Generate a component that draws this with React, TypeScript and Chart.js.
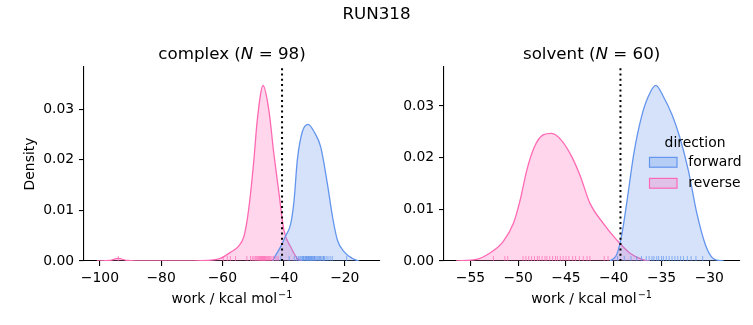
import React, { useEffect, useRef } from "react";
import { Chart, registerables } from "chart.js";

Chart.register(...registerables);

const FONT = "'DejaVu Sans', 'Liberation Sans', sans-serif";

// ---------- text ----------
const SUPTITLE = "RUN318";
const PHASES = ["complex", "solvent"];
const PHASE_N = [98, 60];
const DIRECTIONS = ["forward", "reverse"];
const LEGEND_TITLE = "direction";
const X_LABEL = "work / kcal mol";
const X_LABEL_SUP = "\u22121";
const Y_LABEL = "Density";

// ---------- free-energy markers (dotted lines) ----------
const complexDG = -40.5;
const solventDG = -39.3;

// ---------- tick values ----------
const complexXTicks = [-100, -80, -60, -40, -20];
const solventXTicks = [-55, -50, -45, -40, -35, -30];
const yTicks = [0, 0.01, 0.02, 0.03];

// ---------- KDE curves : complex ----------
const complexForwardX = [-43.7, -41, -39.3, -37.7, -36.6, -35.5, -33.9, -32, -30, -27.9, -25.7, -24, -22.4, -20.2, -17.5, -15.3];
const complexForwardY = [0, 0.0028, 0.005, 0.0073, 0.0118, 0.02, 0.0255, 0.027, 0.0255, 0.0226, 0.0153, 0.0087, 0.0041, 0.0018, 0.0005, 0];
const complexReverseX = [-101, -97, -94, -91, -85, -75, -65, -60.7, -57.4, -54.6, -53, -51.9, -50.8, -49.7, -48.6, -46.7, -44.8, -43.2, -41.5, -39.9, -37.7, -35.5, -34];
const complexReverseY = [0, 0.0001, 0.0005, 0.0001, 0, 0, 0.0001, 0.0005, 0.0017, 0.003, 0.0048, 0.0081, 0.0133, 0.02, 0.0278, 0.0347, 0.0298, 0.0213, 0.0134, 0.0061, 0.0028, 0.0005, 0];

// ---------- KDE curves : solvent ----------
const solventForwardX = [-40.4, -39.7, -39.2, -38.6, -37.9, -37.1, -36.4, -35.6, -34.8, -33.9, -33.1, -32.2, -31.3, -30.4, -29.6, -28.5];
const solventForwardY = [0, 0.0012, 0.0047, 0.0118, 0.0208, 0.0279, 0.0318, 0.034, 0.0318, 0.0283, 0.024, 0.0176, 0.0092, 0.0031, 0.0005, 0];
const solventReverseX = [-56.5, -54.4, -53, -51.6, -50.5, -49.8, -49.1, -48.3, -47.4, -46.5, -45.5, -44.4, -43.5, -42.5, -41.1, -39.7, -38.3, -36.9, -36.2];
const solventReverseY = [0, 0.0003, 0.0015, 0.0037, 0.0073, 0.0118, 0.0176, 0.0221, 0.0244, 0.0247, 0.0234, 0.0202, 0.0164, 0.0112, 0.0073, 0.0041, 0.0015, 0.0002, 0];

// ---------- rug samples ----------
const complexForwardRug = [-40.9, -38.2, -36.5, -35.8, -35.2, -34.9, -34.5, -34.1, -33.8, -33.6, -33.5, -33.3, -33.0, -32.8, -32.6, -32.5, -32.3, -32.1, -31.9, -31.8, -31.6, -31.4, -31.2, -31.0, -30.9, -30.7, -30.5, -30.2, -30.0, -29.9, -29.7, -29.4, -29.1, -28.8, -28.5, -28.2, -28.0, -27.8, -27.4, -27.0, -26.9, -26.6, -26.1, -25.5, -24.8, -24.1, -19.4];
const complexReverseRug = [-94.0, -59.7, -58.4, -57.4, -55.7, -52.0, -50.8, -50.2, -49.7, -49.3, -49.0, -48.7, -48.4, -48.1, -47.9, -47.6, -47.4, -47.2, -47.0, -46.8, -46.6, -46.4, -46.2, -46.0, -45.8, -45.5, -45.2, -44.9, -44.6, -44.2, -43.8, -43.3, -42.5, -41.8];
const solventForwardRug = [-39.6, -38.9, -38.2, -37.6, -37.1, -36.6, -36.3, -36.0, -35.8, -35.5, -35.3, -35.0, -34.8, -34.5, -34.2, -33.9, -33.6, -33.3, -33.0, -32.7, -32.3, -31.9, -31.4, -30.7];
const solventReverseRug = [-52.6, -51.4, -51.1, -49.5, -49.2, -48.9, -48.6, -48.3, -48.0, -47.8, -47.5, -47.2, -47.0, -46.7, -46.4, -46.1, -45.9, -45.6, -45.3, -45.0, -44.7, -44.3, -44.0, -43.6, -43.2, -42.8, -42.5, -41.0, -40.6];

// ---------- styling ----------
const LINE_COLORS = ["#6495ED", "#FF69B4"];
const FILL_COLORS = ["rgba(100,149,237,0.27)", "rgba(255,105,180,0.27)"];
const RUG_COLORS = ["rgba(100,149,237,0.7)", "rgba(255,105,180,0.7)"];
const TICK_SIZE = 13.9;
const TITLE_SIZE = 16.7;

type Panel = {
  phase: string;
  n: number;
  dg: number;
  xMin: number;
  xMax: number;
  yMax: number;
  xTicks: number[];
  kde: { x: number[]; y: number[] }[];
  rugs: number[][];
  padLeft: number;
  padRight: number;
  yWidth: number;
  showYTitle: boolean;
  suptitle: boolean;
  legend: boolean;
};

const fmtX = (v: number) => (v < 0 ? "\u2212" + Math.abs(v) : String(v));

function textPlugin(p: Panel) {
  return {
    id: "panelText",
    afterDraw(chart: any) {
      const ctx = chart.ctx;
      const ca = chart.chartArea;
      ctx.save();
      ctx.fillStyle = "#000";
      ctx.textBaseline = "alphabetic";
      ctx.textAlign = "left";
      const cx = (ca.left + ca.right) / 2;
      // subplot title with italic N
      const normal = `${TITLE_SIZE}px ${FONT}`;
      const italic = `italic ${TITLE_SIZE}px ${FONT}`;
      const parts = [
        { t: p.phase + " (", f: normal },
        { t: "N", f: italic },
        { t: " = " + p.n + ")", f: normal },
      ];
      let total = 0;
      const widths = parts.map((s) => {
        ctx.font = s.f;
        const w = ctx.measureText(s.t).width;
        total += w;
        return w;
      });
      let x = cx - total / 2;
      const base = ca.top - 8.3;
      parts.forEach((s, i) => {
        ctx.font = s.f;
        ctx.fillText(s.t, x, base);
        x += widths[i];
      });
      // x-axis label with superscript
      const lf = `${TICK_SIZE}px ${FONT}`;
      const sf = `${TICK_SIZE * 0.7}px ${FONT}`;
      ctx.font = lf;
      const w1 = ctx.measureText(X_LABEL).width;
      ctx.font = sf;
      const w2 = ctx.measureText(X_LABEL_SUP).width;
      const lx = cx - (w1 + w2 + 1) / 2;
      const lb = 303;
      ctx.font = lf;
      ctx.fillText(X_LABEL, lx, lb);
      ctx.font = sf;
      ctx.fillText(X_LABEL_SUP, lx + w1 + 1, lb - 5.5);

      if (p.suptitle) {
        ctx.font = normal;
        ctx.textAlign = "center";
        ctx.fillText(SUPTITLE, 376.5, 19.2);
      }
      if (p.legend) {
        const f = `${TICK_SIZE}px ${FONT}`;
        ctx.font = f;
        ctx.textAlign = "center";
        ctx.fillText(LEGEND_TITLE, 695, 146.5);
        ctx.textAlign = "left";
        const rows = [166, 187];
        DIRECTIONS.forEach((d, i) => {
          const top = rows[i] - 8.6;
          ctx.fillStyle = FILL_COLORS[i];
          ctx.fillRect(649.5, top, 27.5, 9.8);
          ctx.strokeStyle = LINE_COLORS[i];
          ctx.lineWidth = 1.2;
          ctx.strokeRect(649.5, top, 27.5, 9.8);
          ctx.fillStyle = "#000";
          ctx.fillText(d, 688.3, rows[i]);
        });
      }
      ctx.restore();
    },
  };
}

function buildChart(canvas: HTMLCanvasElement, p: Panel) {
  const datasets: any[] = [];
  datasets.push({
    type: "line",
    label: "dG",
    data: [
      { x: p.dg, y: 0 },
      { x: p.dg, y: p.yMax },
    ],
    borderColor: "#000",
    borderWidth: 2,
    borderDash: [2, 3.3],
    pointRadius: 0,
    fill: false,
    order: 0,
  });
  p.kde.forEach((k, i) => {
    datasets.push({
      type: "line",
      label: DIRECTIONS[i],
      data: k.x.map((x, j) => ({ x, y: k.y[j] })),
      borderColor: LINE_COLORS[i],
      backgroundColor: FILL_COLORS[i],
      borderWidth: 1.3,
      fill: "origin",
      pointRadius: 0,
      cubicInterpolationMode: "monotone",
      order: 2,
    });
    datasets.push({
      type: "scatter",
      label: DIRECTIONS[i] + " rug",
      data: p.rugs[i].map((x) => ({ x, y: 0 })),
      showLine: false,
      pointStyle: "line",
      pointRotation: 90,
      pointRadius: 5,
      borderColor: RUG_COLORS[i],
      pointBorderColor: RUG_COLORS[i],
      pointBorderWidth: 1,
      borderWidth: 1,
      clip: 0,
      order: 1,
    });
  });

  const tickFont = { family: FONT, size: TICK_SIZE };
  return new Chart(canvas, {
    type: "line",
    data: { datasets },
    plugins: [textPlugin(p)],
    options: {
      responsive: false,
      animation: false,
      events: [],
      devicePixelRatio: 1,
      layout: { padding: { left: p.padLeft, right: p.padRight, top: 67, bottom: 0 } },
      plugins: { legend: { display: false }, tooltip: { enabled: false }, title: { display: false } },
      scales: {
        x: {
          type: "linear",
          min: p.xMin,
          max: p.xMax,
          afterBuildTicks: (s: any) => {
            s.ticks = p.xTicks.map((v) => ({ value: v }));
          },
          afterFit: (s: any) => {
            s.height = 64;
          },
          ticks: {
            font: tickFont,
            color: "#000",
            padding: 4.5,
            maxRotation: 0,
            autoSkip: false,
            callback: (v: any) => fmtX(Number(v)),
          },
          grid: { display: true, drawOnChartArea: false, drawTicks: true, tickLength: 5, color: "#000", lineWidth: 1.1 },
          border: { display: true, color: "#000", width: 1.1 },
          title: { display: false },
        },
        y: {
          type: "linear",
          min: 0,
          max: p.yMax,
          afterBuildTicks: (s: any) => {
            s.ticks = yTicks.map((v) => ({ value: v }));
          },
          afterFit: (s: any) => {
            s.width = p.yWidth;
          },
          ticks: {
            font: tickFont,
            color: "#000",
            padding: 4.9,
            autoSkip: false,
            callback: (v: any) => Number(v).toFixed(2),
          },
          grid: { display: true, drawOnChartArea: false, drawTicks: true, tickLength: 5, color: "#000", lineWidth: 1.1 },
          border: { display: true, color: "#000", width: 1.1 },
          title: { display: p.showYTitle, text: Y_LABEL, color: "#000", font: tickFont, padding: { top: 21.7, bottom: 0 } },
        },
      },
    } as any,
  });
}

const panels: Panel[] = [
  {
    phase: PHASES[0],
    n: PHASE_N[0],
    dg: complexDG,
    xMin: -105.2,
    xMax: -8.5,
    yMax: 0.03836,
    xTicks: complexXTicks,
    kde: [
      { x: complexForwardX, y: complexForwardY },
      { x: complexReverseX, y: complexReverseY },
    ],
    rugs: [complexForwardRug, complexReverseRug],
    padLeft: 0,
    padRight: 373,
    yWidth: 84,
    showYTitle: true,
    suptitle: true,
    legend: false,
  },
  {
    phase: PHASES[1],
    n: PHASE_N[1],
    dg: solventDG,
    xMin: -57.77,
    xMax: -26.86,
    yMax: 0.03755,
    xTicks: solventXTicks,
    kde: [
      { x: solventForwardX, y: solventForwardY },
      { x: solventReverseX, y: solventReverseY },
    ],
    rugs: [solventForwardRug, solventReverseRug],
    padLeft: 384,
    padRight: 13.7,
    yWidth: 60,
    showYTitle: false,
    suptitle: false,
    legend: true,
  },
];

export default function App() {
  const leftRef = useRef<HTMLCanvasElement>(null);
  const rightRef = useRef<HTMLCanvasElement>(null);

  useEffect(() => {
    const charts: Chart[] = [];
    if (leftRef.current) charts.push(buildChart(leftRef.current, panels[0]));
    if (rightRef.current) charts.push(buildChart(rightRef.current, panels[1]));
    return () => charts.forEach((c) => c.destroy());
  }, []);

  const canvasStyle: React.CSSProperties = { position: "absolute", left: 0, top: 0, width: 753, height: 325 };
  return (
    <div style={{ position: "absolute", left: 0, top: 0, width: 753, height: 325, background: "#fff" }}>
      <canvas ref={leftRef} width={753} height={325} style={canvasStyle} />
      <canvas ref={rightRef} width={753} height={325} style={canvasStyle} />
    </div>
  );
}
